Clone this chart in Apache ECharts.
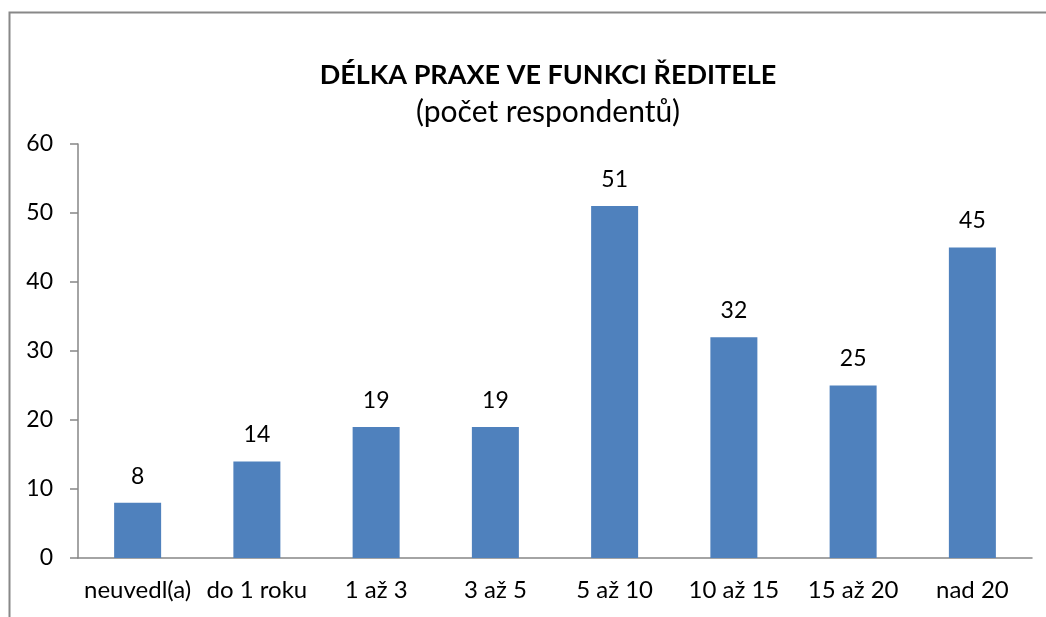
<!DOCTYPE html>
<html>
<head>
<meta charset="utf-8">
<script src="https://cdn.jsdelivr.net/npm/echarts@6/dist/echarts.min.js"></script>
<style>
    html, body { margin: 0; padding: 0; background: #fff; }
    #chart { width: 1046px; height: 617px; }
</style>
</head>
<body>
<div id="chart"></div>
<script>
// data
const categories = ['neuvedl(a)', 'do 1 roku', '1 až 3', '3 až 5', '5 až 10', '10 až 15', '15 až 20', 'nad 20']
const values = [8, 14, 19, 19, 51, 32, 25, 45]
const titleText = 'DÉLKA PRAXE VE FUNKCI ŘEDITELE'
const subtitleText = '(počet respondentů)'

const font = 'Lato, "Open Sans", sans-serif'
const chart = echarts.init(document.getElementById('chart'))
chart.setOption({
    animation: false,
    textStyle: { fontFamily: font },
    title: {
        text: titleText,
        subtext: subtitleText,
        left: 543,
        textAlign: 'center',
        top: 57,
        itemGap: 8,
        textStyle: { fontFamily: font, fontSize: 27, fontWeight: 'bold', color: '#000' },
        subtextStyle: { fontFamily: font, fontSize: 30, color: '#000' },
    },
    // rámeček kolem grafu (vpravo a dole je oříznutý)
    graphic: [{
        type: 'rect',
        shape: { x: 9.5, y: 12.5, width: 1100, height: 700 },
        style: { fill: 'none', stroke: '#888', lineWidth: 2 },
    }],
    grid: { left: 78, right: 14, top: 144, bottom: 59 },
    xAxis: {
        type: 'category',
        data: categories,
        axisLine: { lineStyle: { color: '#868686', width: 1.5 } },
        axisTick: { length: 6, lineStyle: { color: '#868686', width: 1.5 } },
        axisLabel: { color: '#000', fontSize: 24, margin: 20, interval: 0 },
    },
    yAxis: {
        type: 'value',
        min: 0,
        max: 60,
        interval: 10,
        splitLine: { show: false },
        axisLine: { show: true, lineStyle: { color: '#868686', width: 1.5 } },
        axisTick: { show: true, length: 8, lineStyle: { color: '#868686', width: 1.5 } },
        axisLabel: { color: '#000', fontSize: 23, margin: 25 },
    },
    series: [{
        type: 'bar',
        data: values,
        barWidth: 47,
        itemStyle: { color: '#4F81BD' },
        label: {
            show: true,
            position: 'top',
            distance: 15,
            color: '#000',
            fontSize: 23,
            fontFamily: font,
        },
    }],
})
</script>
</body>
</html>
